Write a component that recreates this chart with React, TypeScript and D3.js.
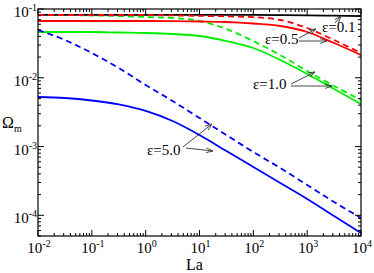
import React, { useEffect, useRef } from 'react'
import * as d3 from 'd3'

// log10(La) grid shared by all curves
const logLa = [-2, -1.5, -1, -0.5, 0, 0.5, 1, 1.5, 2, 2.5, 3, 3.5, 4]

const black01 = [0.082, 0.082, 0.082, 0.082, 0.082, 0.082, 0.082, 0.082, 0.082, 0.0815, 0.081, 0.08, 0.079]
const redSolid = [0.0669, 0.0669, 0.0669, 0.0669, 0.0669, 0.0665, 0.0658, 0.0647, 0.0615, 0.0566, 0.0463, 0.032, 0.0214]
const redDash = [0.0818, 0.0818, 0.0818, 0.0818, 0.0818, 0.0806, 0.0794, 0.0781, 0.0762, 0.0692, 0.0529, 0.0354, 0.0229]
const greenSolid = [0.0463, 0.0463, 0.0463, 0.0455, 0.0448, 0.0433, 0.0405, 0.0342, 0.0271, 0.0181, 0.01134, 0.00687, 0.00415]
const greenDash = [0.0818, 0.0818, 0.0804, 0.0791, 0.0765, 0.074, 0.0669, 0.0512, 0.0342, 0.0214, 0.01254, 0.00759, 0.00475]
const blueSolid = [0.00525, 0.00508, 0.00467, 0.00409, 0.00329, 0.00235, 0.00147, 0.000861, 0.000504, 0.000295, 0.000173, 0.0000977, 0.0000553]
const blueDash = [0.0495, 0.0354, 0.0229, 0.01387, 0.00785, 0.00459, 0.0026, 0.00147, 0.000833, 0.000488, 0.000276, 0.000156, 0.0000914]

const series = [
  { values: black01, color: '#000000', dash: null },
  { values: greenDash, color: '#00ee00', dash: '6 4' },
  { values: greenSolid, color: '#00ee00', dash: null },
  { values: redSolid, color: '#ff0000', dash: null },
  { values: redDash, color: '#ff0000', dash: '6 4' },
  { values: blueSolid, color: '#0000ff', dash: null },
  { values: blueDash, color: '#0000ff', dash: '6 4' },
]

const xTickExp = [-2, -1, 0, 1, 2, 3, 4]
const yTickExp = [-1, -2, -3, -4]

// labels in data coords: text anchor + arrows [fromLa, fromOm, toLa, toOm]
const labels = [
  { text: 'ε=0.1', la: 1888, om: 0.0463, arrows: [[3290, 0.0626, 4256, 0.0791]] },
  { text: 'ε=0.5', la: 165, om: 0.031, arrows: [[706, 0.0379, 1459, 0.0512], [706, 0.0342, 2337, 0.0342]] },
  { text: 'ε=1.0', la: 98.6, om: 0.00687, arrows: [[501, 0.00812, 1400, 0.01213], [501, 0.00759, 2896, 0.00759]] },
  { text: 'ε=5.0', la: 1.06, om: 0.000753, arrows: [[4.94, 0.000985, 17.1, 0.00213], [5.6, 0.000952, 17.8, 0.000861]] },
]

const W = 374
const H = 273
const m = { left: 38, right: 13, top: 9, bottom: 37 }
const serif = "'Liberation Serif', 'Times New Roman', Times, serif"

export default function App() {
  const ref = useRef<SVGSVGElement | null>(null)

  useEffect(() => {
    if (!ref.current) return
    const svg = d3.select(ref.current)
    svg.selectAll('*').remove()

    const x = d3.scaleLog().domain([1e-2, 1e4]).range([m.left, W - m.right])
    const y = d3.scaleLog().domain([5e-5, 1e-1]).range([H - m.bottom, m.top])
    const [x0, x1] = x.range()
    const [y0, y1] = y.range()

    const defs = svg.append('defs')
    defs
      .append('marker')
      .attr('id', 'arr')
      .attr('viewBox', '0 0 10 10')
      .attr('refX', 10)
      .attr('refY', 5)
      .attr('markerWidth', 7)
      .attr('markerHeight', 7)
      .attr('markerUnits', 'userSpaceOnUse')
      .attr('orient', 'auto')
      .append('path')
      .attr('d', 'M0,1.5 L10,5 L0,8.5')
      .attr('fill', 'none')
      .attr('stroke', '#333')
      .attr('stroke-width', 1.2)

    defs.append('clipPath').attr('id', 'clip').append('rect')
      .attr('x', x0).attr('y', y1).attr('width', x1 - x0).attr('height', y0 - y1)

    // curves
    const line = d3
      .line<[number, number]>()
      .x((d) => x(Math.pow(10, d[0])))
      .y((d) => y(d[1]))
      .curve(d3.curveMonotoneX)

    const g = svg.append('g').attr('clip-path', 'url(#clip)')
    series.forEach((s) => {
      const pts = logLa.map((l, i) => [l, s.values[i]] as [number, number])
      g.append('path')
        .attr('d', line(pts))
        .attr('fill', 'none')
        .attr('stroke', s.color)
        .attr('stroke-width', 1.8)
        .attr('stroke-dasharray', s.dash)
    })

    // frame
    svg.append('rect')
      .attr('x', x0).attr('y', y1).attr('width', x1 - x0).attr('height', y0 - y1)
      .attr('fill', 'none').attr('stroke', '#000').attr('stroke-width', 1.2)

    // inward ticks on all four sides
    const xMinor: number[] = []
    for (let e = -2; e < 4; e++) for (let k = 2; k <= 9; k++) xMinor.push(k * Math.pow(10, e))
    const yMinor: number[] = []
    for (let e = -5; e < -1; e++) for (let k = 2; k <= 9; k++) {
      const v = k * Math.pow(10, e)
      if (v >= 5e-5 && v <= 0.1) yMinor.push(v)
    }
    const ticks = svg.append('g').attr('stroke', '#000').attr('stroke-width', 1)
    const xt = (v: number, len: number) => {
      ticks.append('line').attr('x1', x(v)).attr('x2', x(v)).attr('y1', y0).attr('y2', y0 - len)
      ticks.append('line').attr('x1', x(v)).attr('x2', x(v)).attr('y1', y1).attr('y2', y1 + len)
    }
    const yt = (v: number, len: number) => {
      ticks.append('line').attr('y1', y(v)).attr('y2', y(v)).attr('x1', x0).attr('x2', x0 + len)
      ticks.append('line').attr('y1', y(v)).attr('y2', y(v)).attr('x1', x1).attr('x2', x1 - len)
    }
    xTickExp.forEach((e) => xt(Math.pow(10, e), 6))
    xMinor.forEach((v) => xt(v, 3))
    yTickExp.forEach((e) => yt(Math.pow(10, e), 6))
    yMinor.forEach((v) => yt(v, 3))

    // tick labels
    xTickExp.forEach((e) => {
      const t = svg.append('text')
        .attr('x', x(Math.pow(10, e)) + 1)
        .attr('y', y0 + 17)
        .attr('text-anchor', 'middle')
        .style('font-family', serif)
        .style('font-size', '15px')
      t.append('tspan').text('10')
      t.append('tspan').attr('dy', -6).style('font-size', '10px').text(String(e))
    })
    yTickExp.forEach((e) => {
      const t = svg.append('text')
        .attr('x', x0 - 1)
        .attr('y', y(Math.pow(10, e)) + 8)
        .attr('text-anchor', 'end')
        .style('font-family', serif)
        .style('font-size', '15px')
      t.append('tspan').text('10')
      t.append('tspan').attr('dy', -6).style('font-size', '10px').text(String(e))
    })

    // axis titles
    svg.append('text')
      .attr('x', (x0 + x1) / 2 - 5)
      .attr('y', H - 3)
      .attr('text-anchor', 'middle')
      .style('font-family', serif)
      .style('font-size', '16px')
      .text('La')
    const yl = svg.append('text')
      .attr('x', 2)
      .attr('y', (y0 + y1) / 2 + 5)
      .style('font-family', serif)
      .style('font-size', '16px')
    yl.append('tspan').text('Ω')
    yl.append('tspan').attr('dy', 4).style('font-size', '10px').text('m')

    // annotations
    labels.forEach((lb) => {
      svg.append('text')
        .attr('x', x(lb.la))
        .attr('y', y(lb.om))
        .style('font-family', serif)
        .style('font-size', '15px')
        .text(lb.text)
      lb.arrows.forEach((a) => {
        svg.append('line')
          .attr('x1', x(a[0])).attr('y1', y(a[1]))
          .attr('x2', x(a[2])).attr('y2', y(a[3]))
          .attr('stroke', '#333')
          .attr('stroke-width', 0.9)
          .attr('marker-end', 'url(#arr)')
      })
    })
  }, [])

  return (
    <svg
      ref={ref}
      width={W}
      height={H}
      style={{ position: 'absolute', left: 0, top: 0, background: '#fff' }}
    />
  )
}
